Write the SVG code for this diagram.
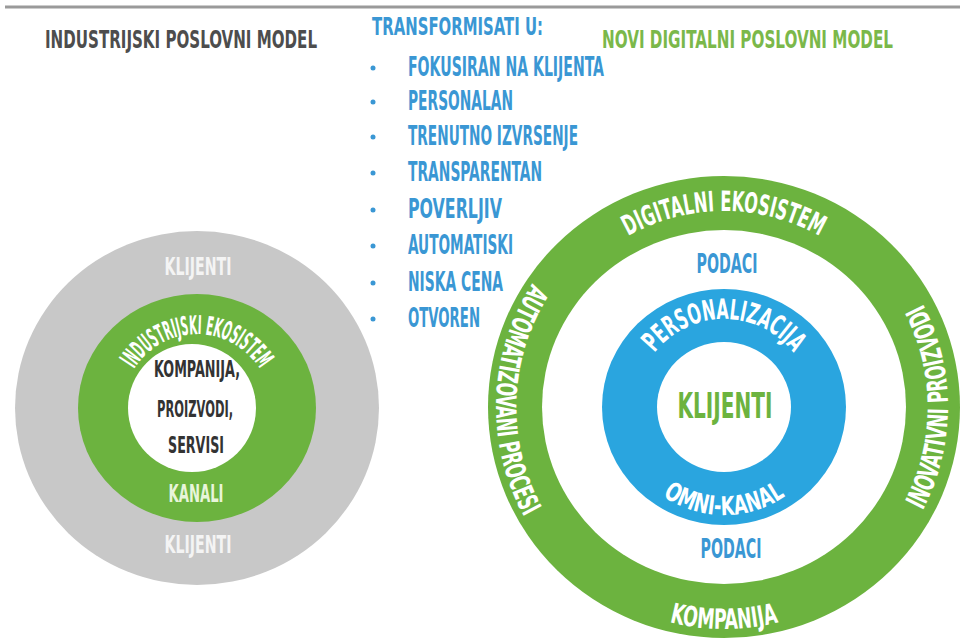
<svg xmlns="http://www.w3.org/2000/svg" width="960" height="639" viewBox="0 0 960 639">
  <style>
    .t { font-family: "Liberation Sans Narrow", "DejaVu Sans Condensed", "Liberation Sans", sans-serif; font-weight: bold; font-stretch: condensed; }
    .c { text-anchor: middle; }
    .title-dark { fill: #4d4d4d; font-size: 25px; }
    .title-green { fill: #7bb84a; font-size: 25px; }
    .list { fill: #3a97d4; font-size: 26px; }
    .bullet { fill: #3a97d4; }
    .gray-ring { fill: #c8c8c8; }
    .green-ring { fill: #6cb33f; }
    .blue-ring { fill: #2aa5df; }
    .core { fill: #ffffff; }
    .on-gray { fill: #f4f4f4; font-size: 25px; }
    .on-green { fill: #ffffff; font-size: 28px; }
    .dark { fill: #333333; font-size: 23px; }
    .kanali { fill: #e8f5da; font-size: 25px; }
    .podaci { fill: #3a97d4; font-size: 26px; }
    .center-green { fill: #6cb33f; font-size: 36px; }
  </style>
  <defs>
    <!-- text baselines for the curved labels -->
    <path id="arcIndEko" d="M133,371 A74,74 0 0 1 261,371"/>
    <path id="arcDigEko" d="M626,237.3 A196,196 0 0 1 822,237.3"/>
    <path id="arcPers" d="M651.9,356.5 A88,88 0 0 1 796.1,356.5"/>
    <path id="arcOmni" d="M659,493.3 A108,108 0 0 0 789,493.3"/>
    <path id="arcKomp" d="M665,621 A222,222 0 0 0 783,621"/>
    <path id="arcAuto" d="M535,279.5 A228,228 0 0 0 526.5,521"/>
    <path id="arcInov" d="M918,519 A224,224 0 0 0 918,295"/>
  </defs>

  <rect width="960" height="639" fill="#ffffff"/>
  <line x1="5" y1="7" x2="960" y2="7" stroke="#9a9a9a" stroke-width="3"/>

  <!-- headings -->
  <g id="heading-industrial">
    <text class="t title-dark" x="45" y="48" textLength="272" lengthAdjust="spacingAndGlyphs">INDUSTRIJSKI POSLOVNI MODEL</text>
  </g>
  <g id="heading-digital">
    <text class="t title-green" x="602" y="48" textLength="291" lengthAdjust="spacingAndGlyphs">NOVI DIGITALNI POSLOVNI MODEL</text>
  </g>

  <!-- transformation list -->
  <g id="transform-list">
    <text class="t list" x="372" y="35" textLength="171" lengthAdjust="spacingAndGlyphs" style="font-size:25px">TRANSFORMISATI U:</text>
    <circle class="bullet" cx="373" cy="68" r="2.5"/>
    <text class="t list" x="408" y="76" textLength="196" lengthAdjust="spacingAndGlyphs">FOKUSIRAN NA KLIJENTA</text>
    <circle class="bullet" cx="373" cy="102" r="2.5"/>
    <text class="t list" x="408" y="110" textLength="105" lengthAdjust="spacingAndGlyphs">PERSONALAN</text>
    <circle class="bullet" cx="373" cy="137" r="2.5"/>
    <text class="t list" x="408" y="145" textLength="170" lengthAdjust="spacingAndGlyphs">TRENUTNO IZVRSENJE</text>
    <circle class="bullet" cx="373" cy="173" r="2.5"/>
    <text class="t list" x="408" y="181" textLength="134" lengthAdjust="spacingAndGlyphs">TRANSPARENTAN</text>
    <circle class="bullet" cx="373" cy="210" r="2.5"/>
    <text class="t list" x="408" y="218" textLength="94" lengthAdjust="spacingAndGlyphs">POVERLJIV</text>
    <circle class="bullet" cx="373" cy="246" r="2.5"/>
    <text class="t list" x="408" y="254" textLength="105" lengthAdjust="spacingAndGlyphs">AUTOMATISKI</text>
    <circle class="bullet" cx="373" cy="283" r="2.5"/>
    <text class="t list" x="408" y="291" textLength="95" lengthAdjust="spacingAndGlyphs">NISKA CENA</text>
    <circle class="bullet" cx="373" cy="319" r="2.5"/>
    <text class="t list" x="408" y="327" textLength="72" lengthAdjust="spacingAndGlyphs">OTVOREN</text>
  </g>

  <!-- industrial model rings -->
  <g id="industrial-model">
    <g id="ind-clients">
      <ellipse class="gray-ring" cx="197" cy="408" rx="182" ry="177"/>
      <text class="t c on-gray" x="198" y="275" textLength="67" lengthAdjust="spacingAndGlyphs">KLIJENTI</text>
      <text class="t c on-gray" x="198" y="553" textLength="67" lengthAdjust="spacingAndGlyphs">KLIJENTI</text>
    </g>
    <g id="ind-ecosystem">
      <ellipse class="green-ring" cx="197" cy="408" rx="119" ry="114"/>
      <text class="t on-green" style="font-size:26px"><textPath href="#arcIndEko" startOffset="50%" text-anchor="middle" textLength="150" lengthAdjust="spacingAndGlyphs">INDUSTRIJSKI EKOSISTEM</textPath></text>
      <text class="t c kanali" x="196" y="502" textLength="55" lengthAdjust="spacingAndGlyphs">KANALI</text>
    </g>
    <g id="ind-core">
      <circle class="core" cx="192" cy="408" r="64"/>
      <text class="t c dark" x="197" y="377" textLength="86" lengthAdjust="spacingAndGlyphs">KOMPANIJA,</text>
      <text class="t c dark" x="195" y="417" textLength="76" lengthAdjust="spacingAndGlyphs">PROIZVODI,</text>
      <text class="t c dark" x="196" y="453" textLength="56" lengthAdjust="spacingAndGlyphs">SERVISI</text>
    </g>
  </g>

  <!-- digital model rings -->
  <g id="digital-model">
    <g id="dig-ecosystem">
      <ellipse class="green-ring" cx="724" cy="407" rx="236" ry="231"/>
      <text class="t on-green"><textPath href="#arcDigEko" startOffset="50%" text-anchor="middle" textLength="200" lengthAdjust="spacingAndGlyphs">DIGITALNI EKOSISTEM</textPath></text>
      <text class="t on-green"><textPath href="#arcAuto" startOffset="50%" text-anchor="middle" textLength="245" lengthAdjust="spacingAndGlyphs">AUTOMATIZOVANI PROCESI</textPath></text>
      <text class="t on-green"><textPath href="#arcInov" startOffset="50%" text-anchor="middle" textLength="215" lengthAdjust="spacingAndGlyphs">INOVATIVNI PROIZVODI</textPath></text>
      <text class="t on-green"><textPath href="#arcKomp" startOffset="50%" text-anchor="middle" textLength="110" lengthAdjust="spacingAndGlyphs">KOMPANIJA</textPath></text>
    </g>
    <g id="dig-data">
      <ellipse class="core" cx="724" cy="407" rx="182" ry="177"/>
      <text class="t c podaci" x="727" y="273" textLength="61" lengthAdjust="spacingAndGlyphs">PODACI</text>
      <text class="t c podaci" x="731" y="558" textLength="61" lengthAdjust="spacingAndGlyphs">PODACI</text>
    </g>
    <g id="dig-personalization">
      <ellipse class="blue-ring" cx="724" cy="407" rx="122" ry="118"/>
      <text class="t on-green"><textPath href="#arcPers" startOffset="50%" text-anchor="middle" textLength="160" lengthAdjust="spacingAndGlyphs">PERSONALIZACIJA</textPath></text>
      <text class="t on-green" style="font-size:26px"><textPath href="#arcOmni" startOffset="50%" text-anchor="middle" textLength="130" lengthAdjust="spacingAndGlyphs">OMNI-KANAL</textPath></text>
    </g>
    <g id="dig-clients">
      <ellipse class="core" cx="724" cy="407" rx="67" ry="65"/>
      <text class="t c center-green" x="725" y="418" textLength="95" lengthAdjust="spacingAndGlyphs">KLIJENTI</text>
    </g>
  </g>
</svg>
